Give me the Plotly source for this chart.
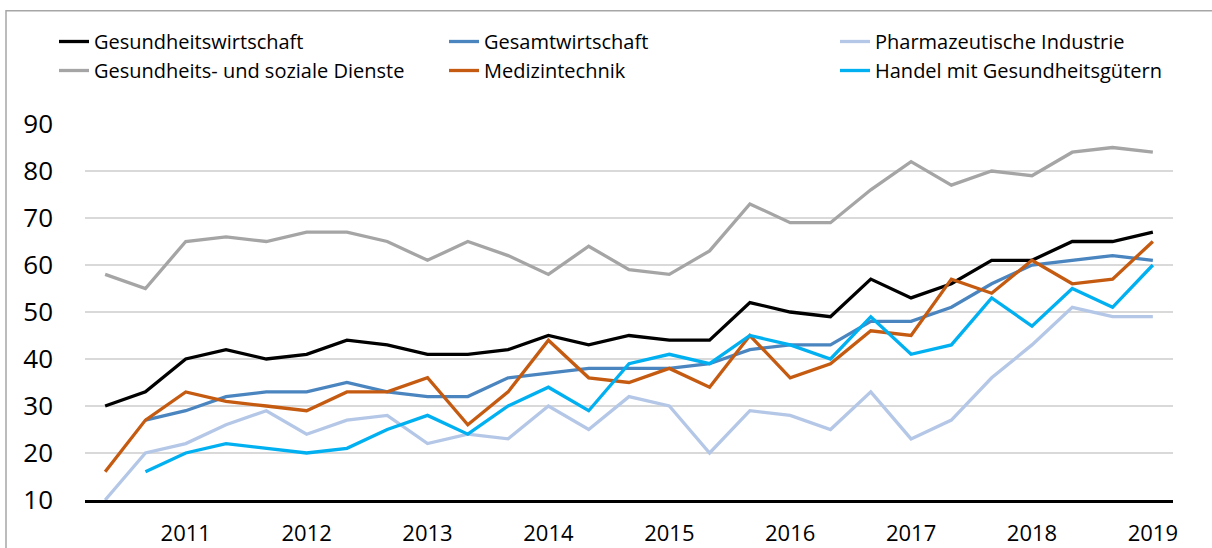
import plotly.graph_objects as go

# --- data ---
periods = list(range(27))
tick_pos = [2, 5, 8, 11, 14, 17, 20, 23, 26]
tick_years = ["2011", "2012", "2013", "2014", "2015", "2016", "2017", "2018", "2019"]

gesundheitswirtschaft = [30, 33, 40, 42, 40, 41, 44, 43, 41, 41, 42, 45, 43, 45, 44, 44, 52, 50, 49, 57, 53, 56, 61, 61, 65, 65, 67]
gesamtwirtschaft = [None, 27, 29, 32, 33, 33, 35, 33, 32, 32, 36, 37, 38, 38, 38, 39, 42, 43, 43, 48, 48, 51, 56, 60, 61, 62, 61]
pharma = [10, 20, 22, 26, 29, 24, 27, 28, 22, 24, 23, 30, 25, 32, 30, 20, 29, 28, 25, 33, 23, 27, 36, 43, 51, 49, 49]
soziale_dienste = [58, 55, 65, 66, 65, 67, 67, 65, 61, 65, 62, 58, 64, 59, 58, 63, 73, 69, 69, 76, 82, 77, 80, 79, 84, 85, 84]
medizintechnik = [16, 27, 33, 31, 30, 29, 33, 33, 36, 26, 33, 44, 36, 35, 38, 34, 45, 36, 39, 46, 45, 57, 54, 61, 56, 57, 65]
handel = [None, 16, 20, 22, 21, 20, 21, 25, 28, 24, 30, 34, 29, 39, 41, 39, 45, 43, 40, 49, 41, 43, 53, 47, 55, 51, 60]

# (name, values, colour, legend column)
series = [
    ("Gesundheitswirtschaft", gesundheitswirtschaft, "#000000", "legend"),
    ("Gesamtwirtschaft", gesamtwirtschaft, "#4a85c0", "legend2"),
    ("Pharmazeutische Industrie", pharma, "#b4c7e7", "legend3"),
    ("Gesundheits- und soziale Dienste", soziale_dienste, "#a5a5a5", "legend"),
    ("Medizintechnik", medizintechnik, "#c55a11", "legend2"),
    ("Handel mit Gesundheitsgütern", handel, "#00b0f0", "legend3"),
]

W, H = 1212, 548
L, R, T, B = 85, 39, 123.5, 48

fig = go.Figure()
for name, vals, color, lg in series:
    fig.add_trace(go.Scatter(
        x=periods, y=vals, name=name, mode="lines",
        line=dict(color=color, width=3.3),
        connectgaps=False, legend=lg,
    ))

pw = W - L - R
ph = H - T - B

def px_x(p):
    return (p - L) / pw

def px_y(p):
    return (H - B - p) / ph

# outer frame (left and top edges visible)
fig.add_shape(type="path",
              path=f"M {px_x(6)},{px_y(H+5)} L {px_x(6)},{px_y(10)} L {px_x(W+5)},{px_y(10)}",
              xref="paper", yref="paper",
              line=dict(color="#a6a6a6", width=1.5), layer="below")

legend_font = dict(family="Open Sans", size=20, color="#000000")

def legend_at(xpix, ypix):
    return dict(
        orientation="v",
        xref="container", yref="container",
        x=xpix / W, y=1 - ypix / H, xanchor="left", yanchor="top",
        font=legend_font, bgcolor="rgba(0,0,0,0)", tracegroupgap=0,
    )

fig.update_layout(
    width=W, height=H,
    margin=dict(l=L, r=R, t=T, b=B, autoexpand=False),
    paper_bgcolor="white", plot_bgcolor="white",
    font=dict(family="Open Sans", color="#000000"),
    showlegend=True,
    legend=legend_at(54, 22),
    legend2=legend_at(444, 22),
    legend3=legend_at(835, 22),
    xaxis=dict(
        range=[-0.5, 26.5], tickmode="array", tickvals=tick_pos, ticktext=tick_years,
        showgrid=False, zeroline=False, showline=True, linecolor="#000000", linewidth=3,
        ticks="", tickfont=dict(family="Open Sans", size=22, color="#000000"),
        ticklabelstandoff=12,
    ),
    yaxis=dict(
        range=[10, 90], tickmode="array", tickvals=[10, 20, 30, 40, 50, 60, 70, 80, 90],
        showgrid=True, gridcolor="#d9d9d9", gridwidth=1.5, zeroline=False, showline=False,
        ticks="", tickfont=dict(family="Open Sans", size=26, color="#000000"),
        ticklabelstandoff=31,
    ),
)

fig.write_html("out.html", config={"displayModeBar": False},
               post_script="document.body.style.margin='0';")
